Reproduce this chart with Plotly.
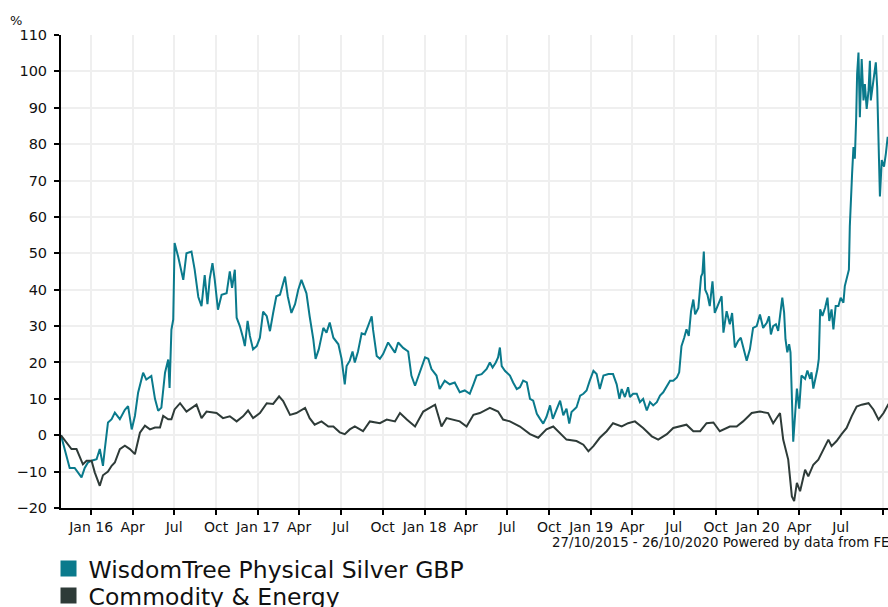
import pandas as pd
import plotly.graph_objects as go

START = "2015-10-27"

# days since 27/10/2015 and cumulative % performance
silver_days = [0, 8, 19, 30, 45, 52, 59, 67, 78, 85, 92, 96, 103, 111, 118, 129, 140, 147, 155, 162,
               169, 180, 187, 198, 206, 213, 220, 228, 235, 238, 242, 246, 249, 257, 268, 275, 286, 293,
               301, 308, 315, 321, 326, 332, 337, 344, 352, 363, 370, 375, 381, 385, 392, 399, 403, 409,
               414, 421, 429, 436, 443, 451, 458, 465, 472, 480, 485, 491, 497, 505, 513, 520, 527, 533,
               538, 545, 553, 558, 565, 575, 582, 589, 597, 608, 615, 622, 626, 633, 639, 644, 651, 659,
               666, 673, 681, 684, 692, 699, 706, 717, 725, 732, 739, 750, 761, 768, 776, 787, 798, 805,
               812, 823, 830, 841, 852, 863, 874, 885, 896, 904, 911, 922, 933, 940, 946, 953, 958, 962,
               966, 973, 984, 991, 999, 1006, 1013, 1021, 1028, 1035, 1043, 1050, 1057, 1064, 1072, 1078,
               1086, 1094, 1101, 1108, 1114, 1119, 1130, 1138, 1145, 1152, 1159, 1167, 1174, 1181, 1189,
               1200, 1210, 1218, 1224, 1229, 1236, 1243, 1247, 1254, 1262, 1269, 1276, 1284, 1291, 1298,
               1306, 1313, 1320, 1328, 1335, 1342, 1350, 1355, 1360, 1366, 1371, 1376, 1381, 1386, 1390,
               1397, 1403, 1406, 1409, 1412, 1417, 1422, 1428, 1433, 1441, 1448, 1452, 1459, 1466, 1471,
               1477, 1484, 1490, 1496, 1503, 1510, 1517, 1525, 1532, 1539, 1547, 1552, 1556, 1561, 1567,
               1572, 1576, 1581, 1585, 1588, 1592, 1596, 1599, 1602, 1605, 1609, 1613, 1618, 1623, 1631,
               1636, 1642, 1645, 1649, 1654, 1658, 1661, 1664, 1669, 1675, 1680, 1684, 1689, 1693, 1698,
               1704, 1709, 1715, 1718, 1724, 1727, 1729, 1732, 1734, 1737, 1740, 1743, 1745, 1748, 1751,
               1755, 1759, 1762, 1766, 1770, 1773, 1775, 1779, 1782, 1786, 1789, 1791, 1795, 1799, 1804,
               1808, 1812, 1819, 1826]
silver_vals = [0, -4, -9, -9, -11.6, -9, -7.5, -7, -6.6, -3.8, -8.4, -3.8, 3.5, 4.4, 6.2, 4.4, 7, 8, 1.6, 5.3,
               11.7, 17.2, 15.3, 16.3, 10, 6.7, 7.6, 17.2, 20.8, 13, 29, 31.8, 52.8, 49, 42.7, 50, 50.5, 45.5,
               38, 35.5, 44, 36, 43, 47.3, 42.7, 34.5, 38.6, 39, 45, 40.5, 45.5, 32.3, 30, 26.8, 24.5, 31.4,
               27.3, 23.6, 24.5, 26.8, 34, 32.7, 28.6, 33.6, 38.2, 38.6, 41, 43.6, 38.2, 33.6, 36, 40, 42.7, 40.5,
               39, 32.7, 26.4, 21, 23.6, 29.5, 28.2, 31, 26.8, 25, 21, 14, 19, 20.5, 23, 20, 23, 28,
               27.7, 30, 32.7, 29, 21.8, 21, 22.3, 25.5, 24, 22.7, 25.5, 24, 23, 16.4, 13.6, 17.3, 21.4, 21,
               18.2, 16.4, 12.7, 15, 14, 14.5, 11.8, 12.3, 11.4, 14, 16.4, 16.8, 18.2, 20, 18.6, 20, 21.4, 24.1,
               19, 17.7, 16.4, 14.5, 12.7, 13.2, 15, 14.5, 10, 9.5, 5.9, 4.5, 3.2, 5, 8.2, 4.5,
               7.3, 9.5, 5.5, 7.3, 3.2, 6.4, 7.7, 10.9, 11.4, 12.3, 15, 17.7, 16.8, 12.7, 16.4,
               16.8, 16.8, 14, 10, 12.7, 10.5, 13.2, 10.5, 11.4, 11.4, 9.1, 10, 6.8, 9.1, 8.2,
               9.1, 10.9, 11.8, 13.6, 15, 15, 15.9, 17.3, 24.5, 26.8, 29.1, 27.3, 34.1, 37.3, 33.2,
               35, 43.6, 44.5, 50.5, 40, 38.6, 35.5, 42.3, 33.6, 35.9, 38.2, 28.2, 34.1, 30.5, 33.6,
               24.1, 25.9, 26.8, 24.1, 20.5, 23.6, 29.5, 30, 33.2, 29.5, 30.9, 32.7, 27.7, 30, 30.5,
               28.7, 32.8, 37.8, 33.7, 26.4, 22.8, 25, 22.8, 8.2, -1.8, 5.5, 12.8, 7.3, 16.4, 15.5,
               17.8, 15.5, 17.3, 12.8, 15.5, 18.2, 21, 34.6, 32.8, 35.1, 37.8, 31.4, 34.6, 29.1, 35.5,
               35.5, 37.8, 36.4, 41, 44.6, 45.5, 57.4, 68.3, 71.9, 79.2, 76, 87.4, 99.3, 105.2, 87.4,
               103.4, 92, 96.5, 89.7, 94.7, 102.9, 92, 96.5, 98.4, 102.5, 95.6, 82.9, 65.6, 75.6, 73.8,
               77.4, 82, 79, 78]

commodity_days = [0, 12, 23, 34, 41, 48, 56, 67, 74, 85, 92, 103, 111, 118, 129, 140, 151, 162, 173, 184,
                  195, 206, 217, 224, 235, 242, 249, 261, 275, 297, 308, 319, 341, 355, 370, 385, 399, 410,
                  421, 436, 451, 465, 478, 487, 502, 516, 535, 545, 556, 571, 586, 597, 611, 622, 633, 644,
                  662, 677, 699, 714, 732, 743, 758, 776, 794, 809, 820, 834, 845, 874, 889, 904, 918, 940,
                  958, 969, 984, 1006, 1028, 1046, 1064, 1079, 1094, 1108, 1130, 1145, 1156, 1167, 1181,
                  1196, 1210, 1229, 1243, 1258, 1276, 1295, 1309, 1328, 1342, 1357, 1371, 1386, 1401, 1415,
                  1430, 1444, 1466, 1481, 1495, 1514, 1532, 1550, 1561, 1576, 1583, 1594, 1602, 1607, 1613,
                  1620, 1631, 1638, 1649, 1660, 1671, 1682, 1689, 1700, 1711, 1722, 1733, 1744, 1755, 1770,
                  1781, 1792, 1803, 1813, 1826]
commodity_vals = [0, -2, -3.8, -3.8, -5.7, -8, -7, -7, -10.2, -13.9, -11, -10, -8.4, -7.5, -3.8, -2.9, -3.8, -5.2,
                  0.7, 2.6, 1.6, 2.1, 2.1, 5.3, 4.4, 4.4, 7.1, 8.8, 6.5, 8.4, 4.7, 6.5, 6.1, 4.7, 5.2, 3.8, 5.2,
                  6.8, 4.7, 6.1, 8.8, 8.6, 10.7, 9.4, 5.6, 6.1, 7.5, 4.7, 2.9, 3.8, 2.4, 2.4, 0.8, 0.3, 1.6,
                  2.4, 1.1, 3.8, 3.3, 4.3, 3.8, 6.1, 4.3, 2.4, 6.5, 7.5, 8.4, 2.4, 4.7, 3.8, 2.4, 5.6, 6.1, 7.5,
                  6.5, 4.3, 3.8, 2.4, 0.3, -0.7, 1.6, 2.4, 0.6, -1.2, -1.6, -2.6, -4.4, -3, -0.7,
                  1.1, 3.3, 2.4, 3.3, 3.8, 2, -0.3, -1.2, 0.3, 2, 2.4, 2.9, 1.1, 1.1, 3.3,
                  3.5, 1.1, 2.4, 2.4, 3.8, 6.1, 6.5, 6.1, 3.3, 6.1, -1.2, -6.7, -16.8, -18.1, -13.1,
                  -15.4, -9.5, -11.3, -8.1, -6.7, -4, -1.2, -3, -1.6, 0.3, 2, 5.2, 7.9, 8.4, 8.8,
                  7, 4.3, 6.1, 8.4, 8]

series_names = ["WisdomTree Physical Silver GBP", "Commodity & Energy"]
series_colors = ["#0a7a8c", "#2e3b38"]

tick_dates = ["2016-01-01", "2016-04-01", "2016-07-01", "2016-10-01", "2017-01-01", "2017-04-01",
              "2017-07-01", "2017-10-01", "2018-01-01", "2018-04-01", "2018-07-01", "2018-10-01",
              "2019-01-01", "2019-04-01", "2019-07-01", "2019-10-01", "2020-01-01", "2020-04-01",
              "2020-07-01", "2020-10-01"]
tick_text = ["Jan 16", "Apr", "Jul", "Oct", "Jan 17", "Apr", "Jul", "Oct", "Jan 18", "Apr", "Jul", "Oct",
             "Jan 19", "Apr", "Jul", "Oct", "Jan 20", "Apr", "Jul", "Oct"]
y_ticks = list(range(-20, 111, 10))

footer = "27/10/2015 - 26/10/2020 Powered by data from FE"

start = pd.Timestamp(START)
def to_dates(days):
    return [start + pd.Timedelta(days=d) for d in days]

FONT = "DejaVu Sans, Verdana, sans-serif"

fig = go.Figure()
for days, vals, name, col in [(silver_days, silver_vals, series_names[0], series_colors[0]),
                              (commodity_days, commodity_vals, series_names[1], series_colors[1])]:
    fig.add_trace(go.Scatter(x=to_dates(days), y=vals, mode="lines", name=name,
                             line=dict(color=col, width=2), showlegend=False, hoverinfo="skip"))
for name, col, lg in zip(series_names, series_colors, ["legend", "legend2"]):
    fig.add_trace(go.Scatter(x=[None], y=[None], mode="markers", name=name, legend=lg,
                             marker=dict(symbol="square", size=16, color=col)))

legend_common = dict(x=-0.0151, xanchor="left", yanchor="top",
                     font=dict(size=23.5, color="#111111", family=FONT),
                     bgcolor="rgba(0,0,0,0)")

fig.update_layout(
    width=888, height=607,
    margin=dict(l=61, r=0, t=34.5, b=98.5, autoexpand=False),
    paper_bgcolor="white", plot_bgcolor="white",
    font=dict(family=FONT, color="#111111", size=14),
    showlegend=True,
    legend=dict(y=-0.082, **legend_common),
    legend2=dict(y=-0.139, **legend_common),
    xaxis=dict(type="date", range=[start, start + pd.Timedelta(days=1812.7)],
               tickvals=tick_dates, ticktext=tick_text, tickangle=0,
               showgrid=True, gridcolor="#efefef", gridwidth=2,
               showline=True, linecolor="black", linewidth=2,
               ticks="outside", ticklen=5, tickwidth=2, tickcolor="black",
               tickfont=dict(size=14), zeroline=False),
    yaxis=dict(range=[-20, 110], tickvals=y_ticks,
               showgrid=True, gridcolor="#efefef", gridwidth=2,
               showline=True, linecolor="black", linewidth=2,
               ticks="outside", ticklen=5, tickwidth=2, tickcolor="black",
               ticklabelstandoff=4,
               tickfont=dict(size=14.5), zeroline=False),
    annotations=[
        dict(text="%", xref="paper", yref="paper", x=(8 - 61) / 827, y=(508.5 - 20) / 474,
             xanchor="left", yanchor="middle", showarrow=False, font=dict(size=13)),
        dict(text=footer, xref="paper", yref="paper", x=(549.5 - 61) / 827, y=(508.5 - 543) / 474,
             xanchor="left", yanchor="middle", showarrow=False, font=dict(size=13.3)),
    ],
)

fig.write_html("out.html", config={"displayModeBar": False},
               post_script="document.body.style.margin='0';document.body.style.overflow='hidden';")
